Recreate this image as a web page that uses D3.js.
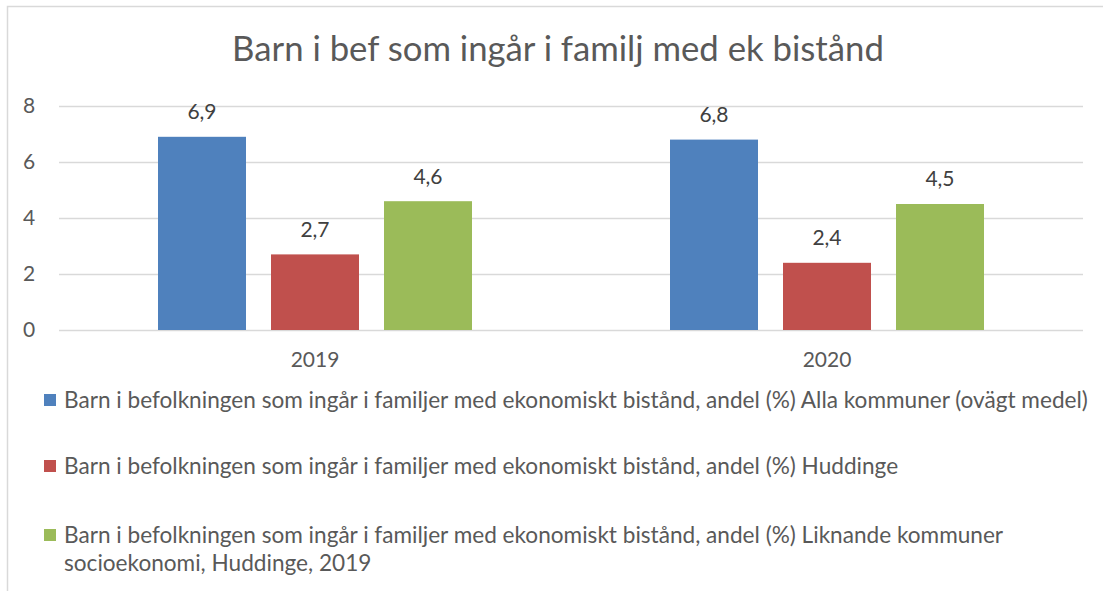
<!DOCTYPE html>
<html>
<head>
<meta charset="utf-8">
<script src="https://cdn.jsdelivr.net/npm/d3@7"></script>
<style>
  body { margin: 0; background: #fff; }
  svg { display: block; font-family: Lato, "Open Sans", sans-serif; }
</style>
</head>
<body>
<script>
var categories = ["2019", "2020"];
var seriesNames = [
  "Barn i befolkningen som ingår i familjer med ekonomiskt bistånd, andel (%) Alla kommuner (ovägt medel)",
  "Barn i befolkningen som ingår i familjer med ekonomiskt bistånd, andel (%) Huddinge",
  "Barn i befolkningen som ingår i familjer med ekonomiskt bistånd, andel (%) Liknande kommuner socioekonomi, Huddinge, 2019"
];
var allaKommuner = [6.9, 6.8];
var huddinge = [2.7, 2.4];
var liknande = [4.6, 4.5];
var yTicks = [0, 2, 4, 6, 8];
var colors = ["#4f81bd", "#c0504d", "#9bbb59"];
var title = "Barn i bef som ingår i familj med ek bistånd";

var W = 1103, H = 591;
var TEXT = "#595959";

var svg = d3.select("body").append("svg")
    .attr("width", W)
    .attr("height", H);

// chart border (runs off the right / bottom edge)
svg.append("rect")
    .attr("x", 7.5).attr("y", 6.5)
    .attr("width", W + 20).attr("height", H + 20)
    .attr("fill", "none")
    .attr("stroke", "#d9d9d9")
    .attr("stroke-width", 1.5);

// fit a text element to a target width
function fit(sel, target) {
    var node = sel.node();
    var fs = parseFloat(sel.attr("font-size"));
    var len = node.getComputedTextLength();
    sel.attr("font-size", (fs * target / len).toFixed(2));
}

var t = svg.append("text")
    .attr("x", 558).attr("y", 61)
    .attr("text-anchor", "middle")
    .attr("font-size", 32)
    .attr("fill", TEXT)
    .text(title);
fit(t, 652);

var plotLeft = 59, plotRight = 1083;
var y = d3.scaleLinear().domain([0, 8]).range([330, 106]);
var x0 = d3.scaleBand().domain(categories).range([plotLeft, plotRight]).padding(0);
var bw = x0.bandwidth();
var groupW = 314;
var x1 = d3.scaleBand().domain([0, 1, 2])
    .range([(bw - groupW) / 2, (bw + groupW) / 2])
    .paddingInner(25 / 113).paddingOuter(0);

// gridlines
svg.append("g").selectAll("line").data(yTicks).join("line")
    .attr("x1", plotLeft).attr("x2", plotRight)
    .attr("y1", d => Math.round(y(d)) + 0.5)
    .attr("y2", d => Math.round(y(d)) + 0.5)
    .attr("stroke", "#d9d9d9")
    .attr("stroke-width", 1.5);

// y tick labels
svg.append("g").selectAll("text").data(yTicks).join("text")
    .attr("x", 29).attr("y", d => y(d))
    .attr("dy", "0.35em")
    .attr("text-anchor", "middle")
    .attr("font-size", 21)
    .attr("fill", TEXT)
    .text(d => d);

// category labels
svg.append("g").selectAll("text").data(categories).join("text")
    .attr("x", d => x0(d) + bw / 2)
    .attr("y", 360)
    .attr("dy", "0.35em")
    .attr("text-anchor", "middle")
    .attr("font-size", 21)
    .attr("fill", TEXT)
    .text(d => d);

var seriesValues = [allaKommuner, huddinge, liknande];
var fmt = v => d3.format(".1f")(v).replace(".", ",");

var groups = svg.append("g").selectAll("g").data(categories).join("g")
    .attr("transform", d => "translate(" + x0(d) + ",0)");

groups.each(function(cat, ci) {
    var g = d3.select(this);
    var rows = seriesValues.map((vals, si) => ({si: si, v: vals[ci]}));
    g.selectAll("rect").data(rows).join("rect")
        .attr("x", d => x1(d.si))
        .attr("y", d => y(d.v))
        .attr("width", x1.bandwidth())
        .attr("height", d => y(0) - y(d.v))
        .attr("fill", d => colors[d.si]);
    g.selectAll("text").data(rows).join("text")
        .attr("x", d => x1(d.si) + x1.bandwidth() / 2)
        .attr("y", d => y(d.v) - 25)
        .attr("dy", "0.35em")
        .attr("text-anchor", "middle")
        .attr("font-size", 21)
        .attr("fill", "#404040")
        .text(d => fmt(d.v));
});

// legend
var legendRows = [
    {lines: [seriesNames[0]], y: 400},
    {lines: [seriesNames[1]], y: 466},
    {lines: ["Barn i befolkningen som ingår i familjer med ekonomiskt bistånd, andel (%) Liknande kommuner", "socioekonomi, Huddinge, 2019"], y: 535}
];
var legendFs = null;
legendRows.forEach(function(row, i) {
    svg.append("rect")
        .attr("x", 44).attr("y", row.y - 6)
        .attr("width", 12).attr("height", 12)
        .attr("fill", colors[i]);
    row.lines.forEach(function(line, li) {
        var tx = svg.append("text")
            .attr("x", 64).attr("y", row.y + li * 28)
            .attr("dy", "0.35em")
            .attr("font-size", 18)
            .attr("fill", TEXT)
            .text(line);
        if (i === 0) {
            fit(tx, 1024);
            legendFs = tx.attr("font-size");
        } else {
            tx.attr("font-size", legendFs);
        }
    });
});
</script>
</body>
</html>
